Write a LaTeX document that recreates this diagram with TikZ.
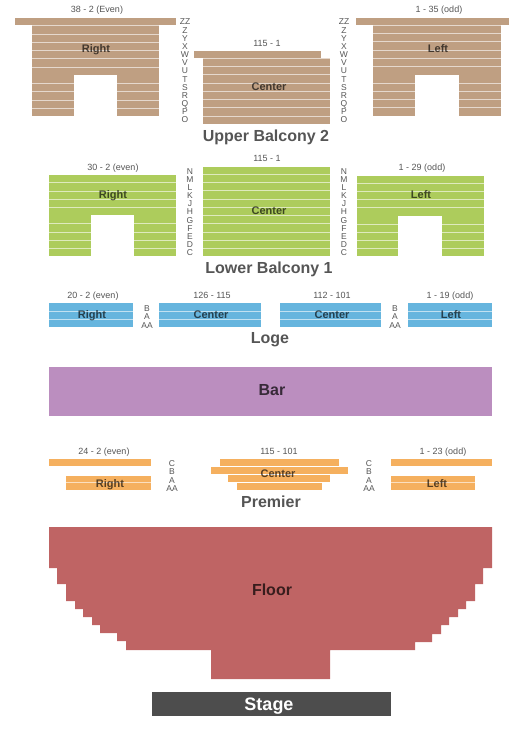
\documentclass[tikz,border=0pt]{standalone}
\usepackage{fontspec}
\setmainfont{Liberation Sans}
\usepackage{tikz}
\definecolor{tanfill}{HTML}{BF9F82}
\definecolor{greenfill}{HTML}{ADCC5C}
\definecolor{bluefill}{HTML}{66B5DE}
\definecolor{orangefill}{HTML}{F5B05F}
\definecolor{floorfill}{HTML}{BF6464}
\definecolor{barfill}{HTML}{BB8EBF}
\definecolor{stagefill}{HTML}{4D4D4D}
\definecolor{titlegray}{HTML}{555555}
\tikzset{
  rowline/.style={draw=white,draw opacity=.6,line width=.8pt},
  notch/.style={fill=white},
  rangelabel/.style={text=titlegray,font=\fontsize{9}{10}\selectfont,inner sep=0pt,text height=6.5pt,text depth=0pt},
  rowletters/.style={text=titlegray,align=center,inner sep=0pt,font=\fontsize{8.5}{8.17}\selectfont},
  sectionlabel/.style={text=black,text opacity=.65,font=\fontsize{11}{12}\selectfont\bfseries,inner sep=0pt,text height=7.9pt,text depth=0pt},
  leveltitle/.style={text=titlegray,font=\fontsize{16}{18}\selectfont\bfseries,inner sep=0pt,text height=11.5pt,text depth=0pt},
  biglabel/.style={text=black,text opacity=.7,font=\fontsize{16}{18}\selectfont\bfseries,inner sep=0pt,text height=11.5pt,text depth=0pt}
}

\begin{document}
\begin{tikzpicture}[x=1pt,y=-1pt]
\useasboundingbox (0,0) rectangle (525,750);
% upper balcony
\fill[tanfill] (15,18) rectangle (176,25);
\fill[tanfill] (32,25) rectangle (159,116);
\fill[tanfill] (194,51) rectangle (321,58);
\fill[tanfill] (203,58) rectangle (330,124);
\fill[tanfill] (356,18) rectangle (509,25);
\fill[tanfill] (373,25) rectangle (501,116);
\draw[rowline] (15,25.4) -- (176,25.4) (32,34) -- (159,34) (32,42.3) -- (159,42.3) (32,50.3) -- (159,50.3) (32,58.3) -- (159,58.3) (32,67.3) -- (159,67.3) (32,83.3) -- (159,83.3) (32,91.3) -- (159,91.3) (32,100.3) -- (159,100.3) (32,108.3) -- (159,108.3);
\draw[rowline] (194,58.3) -- (330,58.3) (203,66) -- (330,66) (203,74) -- (330,74) (203,83.3) -- (330,83.3) (203,91.3) -- (330,91.3) (203,99.3) -- (330,99.3) (203,107.3) -- (330,107.3) (203,116) -- (330,116);
\draw[rowline] (356,25.4) -- (509,25.4) (373,33) -- (501,33) (373,41.3) -- (501,41.3) (373,50.3) -- (501,50.3) (373,58.3) -- (501,58.3) (373,66.3) -- (501,66.3) (373,83.3) -- (501,83.3) (373,91.3) -- (501,91.3) (373,99.3) -- (501,99.3) (373,107.3) -- (501,107.3);
\fill[notch] (74,75) rectangle (117,116.5);
\fill[notch] (415,75) rectangle (459,116.5);
\node[rangelabel] (upperRightRange) at (97,9) {38 - 2 (Even)};
\node[rangelabel] (upperCenterRange) at (267,43) {115 - 1};
\node[rangelabel] (upperLeftRange) at (439,9) {1 - 35 (odd)};
\node[sectionlabel] (upperRight) at (96,49) {Right};
\node[sectionlabel] (upperCenter) at (269,87) {Center};
\node[sectionlabel] (upperLeft) at (438,49) {Left};
\node[rowletters] (upperLettersA) at (185,71) {ZZ\\Z\\Y\\X\\W\\V\\U\\T\\S\\R\\Q\\P\\O};
\node[rowletters] (upperLettersB) at (344,71) {ZZ\\Z\\Y\\X\\W\\V\\U\\T\\S\\R\\Q\\P\\O};
\node[leveltitle] (upperTitle) at (266,136) {Upper Balcony 2};
% lower balcony
\fill[greenfill] (49,175) rectangle (176,256);
\fill[greenfill] (203,167) rectangle (330,256);
\fill[greenfill] (357,176) rectangle (484,256);
\draw[rowline] (49,182.3) -- (176,182.3) (49,191.3) -- (176,191.3) (49,199.3) -- (176,199.3) (49,207.3) -- (176,207.3) (49,223.3) -- (176,223.3) (49,232.3) -- (176,232.3) (49,240.3) -- (176,240.3) (49,248.3) -- (176,248.3);
\draw[rowline] (203,174.3) -- (330,174.3) (203,182.3) -- (330,182.3) (203,190.3) -- (330,190.3) (203,199.3) -- (330,199.3) (203,207.3) -- (330,207.3) (203,215.3) -- (330,215.3) (203,223.3) -- (330,223.3) (203,232.3) -- (330,232.3) (203,240.3) -- (330,240.3) (203,248.3) -- (330,248.3);
\draw[rowline] (357,183.3) -- (484,183.3) (357,191.3) -- (484,191.3) (357,199.3) -- (484,199.3) (357,207.3) -- (484,207.3) (357,224.3) -- (484,224.3) (357,232.3) -- (484,232.3) (357,240.3) -- (484,240.3) (357,248.3) -- (484,248.3);
\fill[notch] (91,215) rectangle (134,256.5);
\fill[notch] (398,216) rectangle (442,256.5);
\node[rangelabel] (lowerRightRange) at (113,167) {30 - 2 (even)};
\node[rangelabel] (lowerCenterRange) at (267,158) {115 - 1};
\node[rangelabel] (lowerLeftRange) at (422,167) {1 - 29 (odd)};
\node[sectionlabel] (lowerRight) at (113,195) {Right};
\node[sectionlabel] (lowerCenter) at (269,211) {Center};
\node[sectionlabel] (lowerLeft) at (421,195) {Left};
\node[rowletters] (lowerLettersA) at (190,212) {N\\M\\L\\K\\J\\H\\G\\F\\E\\D\\C};
\node[rowletters] (lowerLettersB) at (344,212) {N\\M\\L\\K\\J\\H\\G\\F\\E\\D\\C};
\node[leveltitle] (lowerTitle) at (269,268) {Lower Balcony 1};
% loge
\fill[bluefill] (49,303) rectangle (133,327);
\fill[bluefill] (159,303) rectangle (261,327);
\fill[bluefill] (280,303) rectangle (381,327);
\fill[bluefill] (408,303) rectangle (492,327);
\draw[rowline] (49,311.2) -- (133,311.2) (49,319.2) -- (133,319.2) (159,311.2) -- (261,311.2) (159,319.2) -- (261,319.2);
\draw[rowline] (280,311.2) -- (381,311.2) (280,319.2) -- (381,319.2) (408,311.2) -- (492,311.2) (408,319.2) -- (492,319.2);
\node[rangelabel] (logeRightRange) at (93,295) {20 - 2 (even)};
\node[rangelabel] (logeCenterRangeA) at (212,295) {126 - 115};
\node[rangelabel] (logeCenterRangeB) at (332,295) {112 - 101};
\node[rangelabel] (logeLeftRange) at (450,295) {1 - 19 (odd)};
\node[sectionlabel] (logeRight) at (92,315) {Right};
\node[sectionlabel] (logeCenterA) at (211,315) {Center};
\node[sectionlabel] (logeCenterB) at (332,315) {Center};
\node[sectionlabel] (logeLeft) at (451,315) {Left};
\node[rowletters] (logeLettersA) at (147,317) {B\\A\\AA};
\node[rowletters] (logeLettersB) at (395,317) {B\\A\\AA};
\node[leveltitle] (logeTitle) at (270,338) {Loge};
% bar
\fill[barfill] (49,367) rectangle (492,416);
\node[biglabel] (barLabel) at (272,390) {Bar};
% premier
\fill[orangefill] (49,459) rectangle (151,466);
\fill[orangefill] (66,476) rectangle (151,490);
\fill[orangefill] (220,459) rectangle (339,466);
\fill[orangefill] (211,467) rectangle (348,474);
\fill[orangefill] (228,475) rectangle (330,482);
\fill[orangefill] (237,482.7) rectangle (322,490);
\fill[orangefill] (391,459) rectangle (492,466);
\fill[orangefill] (391,476) rectangle (475,490);
\draw[rowline] (66,482.4) -- (151,482.4) (391,482.4) -- (475,482.4);
\node[rangelabel] (premierRightRange) at (104,451) {24 - 2 (even)};
\node[rangelabel] (premierCenterRange) at (279,451) {115 - 101};
\node[rangelabel] (premierLeftRange) at (443,451) {1 - 23 (odd)};
\node[sectionlabel] (premierRight) at (110,484) {Right};
\node[sectionlabel] (premierCenter) at (278,474) {Center};
\node[sectionlabel] (premierLeft) at (437,484) {Left};
\node[rowletters] (premierLettersA) at (172,476) {C\\B\\A\\AA};
\node[rowletters] (premierLettersB) at (369,476) {C\\B\\A\\AA};
\node[leveltitle] (premierTitle) at (271,502) {Premier};
% floor
\fill[floorfill] (49,527) -- (49,568) -- (57,568) -- (57,584) -- (66,584) -- (66,601) -- (75,601) -- (75,609) -- (83,609) -- (83,617) -- (92,617) -- (92,625) -- (100,625) -- (100,633) -- (117,633) -- (117,641) -- (126,641) -- (126,650) -- (211,650) -- (211,679) -- (330,679) -- (330,650) -- (415,650) -- (415,642) -- (432,642) -- (432,634) -- (441,634) -- (441,625) -- (449,625) -- (449,617) -- (458,617) -- (458,609) -- (466,609) -- (466,601) -- (475,601) -- (475,584) -- (483,584) -- (483,568) -- (492,568) -- (492,527) -- cycle;
\node[biglabel] (floorLabel) at (272,590) {Floor};
% stage
\fill[stagefill] (152,692) rectangle (391,716);
\node[text=white,font=\fontsize{18}{20}\selectfont\bfseries,inner sep=0pt,text height=13pt,text depth=0pt] (stageLabel) at (269,704) {Stage};
\end{tikzpicture}
\end{document}
